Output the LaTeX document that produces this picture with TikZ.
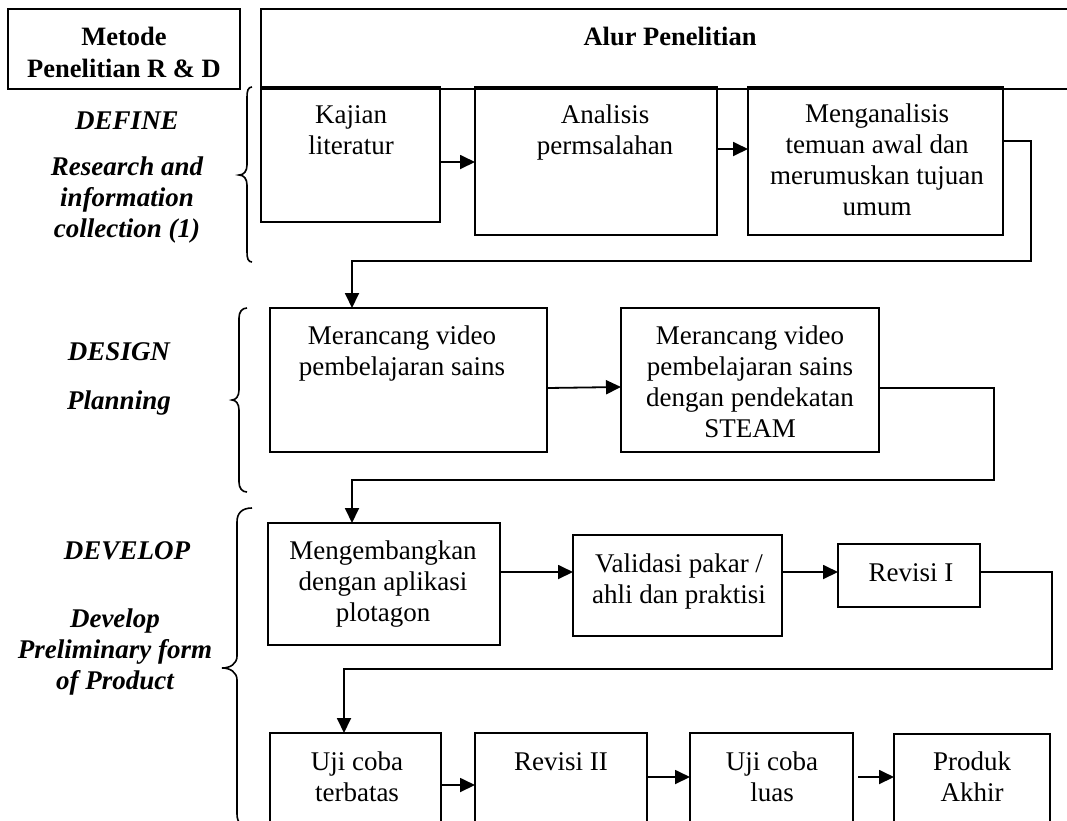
\documentclass[tikz,border=0pt]{standalone}
\usepackage{fontspec}
\setmainfont{Liberation Serif}
\usetikzlibrary{arrows.meta}
\newcommand{\T}{\rule{0pt}{20pt}}
\begin{document}
\begin{tikzpicture}[x=1pt,y=-1pt,
  box/.style={draw, line width=1.8pt, inner sep=0pt, outer sep=0pt, anchor=north west},
  txt/.style={anchor=north, inner sep=0pt, align=center, font=\fontsize{27}{31}\selectfont},
  btxt/.style={txt, font=\fontsize{26.5}{32}\selectfont\bfseries},
  bitxt/.style={txt, font=\fontsize{27}{31}\selectfont\bfseries\itshape},
  arr/.style={line width=1.8pt, -{Triangle[length=15pt,width=14pt]}},
  ln/.style={line width=1.6pt}]
\useasboundingbox (0,0) rectangle (1067,820);
\fill[white] (0,0) rectangle (1067,820);
\clip (0,0) rectangle (1067,820);

% boxes
\node[box, minimum width=232pt, minimum height=80pt] (metode) at (8,9) {};
\node[box, minimum width=819pt, minimum height=80pt] (header) at (261,9) {};
\node[box, minimum width=179pt, minimum height=135pt] (kajian) at (261,87) {};
\node[box, minimum width=242pt, minimum height=148pt] (analisis) at (475,87) {};
\node[box, minimum width=255pt, minimum height=148pt] (mengan) at (748,87) {};
\node[box, minimum width=277pt, minimum height=144pt] (m1) at (270,308) {};
\node[box, minimum width=258pt, minimum height=144pt] (m2) at (621,308) {};
\node[box, minimum width=232pt, minimum height=122pt] (mengemb) at (268,523) {};
\node[box, minimum width=209pt, minimum height=101pt] (valid) at (573,535) {};
\node[box, minimum width=142pt, minimum height=63pt] (rev1) at (838,544) {};
\node[box, minimum width=171pt, minimum height=120pt] (uji) at (270,733) {};
\node[box, minimum width=172pt, minimum height=120pt] (rev2) at (475,733) {};
\node[box, minimum width=163pt, minimum height=120pt] (luas) at (690,733) {};
\node[box, minimum width=156pt, minimum height=120pt] (produk) at (894,734) {};

% texts
\node[btxt] (metodeT) at (124,25) {\T Metode\\Penelitian R \& D};
\node[btxt] (alurT) at (670,25) {\T Alur Penelitian};
\node[bitxt] (defineT) at (127,109) {\T DEFINE};
\node[bitxt] (researchT) at (127,155) {\T Research and\\information\\collection (1)};
\node[txt] (kajianT) at (351,103) {\T Kajian\\literatur};
\node[txt] (analisisT) at (605,103) {\T Analisis\\permsalahan};
\node[txt] (menganT) at (877,102) {\T Menganalisis\\temuan awal dan\\merumuskan tujuan\\umum};
\node[bitxt] (designT) at (119,340) {\T DESIGN};
\node[bitxt] (planningT) at (119,389) {\T Planning};
\node[txt] (m1T) at (402,324) {\T Merancang video\\pembelajaran sains};
\node[txt] (m2T) at (750,324) {\T Merancang video\\pembelajaran sains\\dengan pendekatan\\STEAM};
\node[bitxt] (developT) at (127,539) {\T DEVELOP};
\node[bitxt] (develop2T) at (115,607) {\T Develop\\Preliminary form\\of Product};
\node[txt] (mengembT) at (383,539) {\T Mengembangkan\\dengan aplikasi\\plotagon};
\node[txt] (validT) at (679,552) {\T Validasi pakar /\\ahli dan praktisi};
\node[txt] (rev1T) at (911,561) {\T Revisi I};
\node[txt] (ujiT) at (357,750) {\T Uji coba\\terbatas};
\node[txt] (rev2T) at (561,750) {\T Revisi II};
\node[txt] (luasT) at (772,750) {\T Uji coba\\luas};
\node[txt] (produkT) at (972,750) {\T Produk\\Akhir};

% bend points
\coordinate (c1) at (1031,261);
\coordinate (c2) at (994,480);
\coordinate (c3) at (1052,669);

% connectors
\draw[arr] (kajian.east |- 0,162) -- (analisis.west |- 0,162);
\draw[arr] (analisis.east |- 0,149) -- (mengan.west |- 0,149);
\draw[arr] (mengan.east |- 0,141) -| (c1) -| (m1.north -| 352,0);
\draw[arr] (m1.east |- 0,388) -- (m2.west |- 0,387);
\draw[arr] (m2.east |- 0,388) -| (c2) -| (mengemb.north -| 352,0);
\draw[arr] (mengemb.east |- 0,572) -- (valid.west |- 0,572);
\draw[arr] (valid.east |- 0,572) -- (rev1.west |- 0,572);
\draw[arr] (rev1.east |- 0,572) -| (c3) -| (uji.north -| 344,0);
\draw[arr] (uji.east |- 0,785) -- (rev2.west |- 0,785);
\draw[arr] (rev2.east |- 0,777) -- (luas.west |- 0,777);
\draw[arr, shorten <=5pt] (luas.east |- 0,777) -- (produk.west |- 0,777);

% braces
\draw[ln] (252,87) .. controls (248,87) and (247,91) .. (247,97) -- (247,165)
  .. controls (247,171) and (244,175) .. (239,175)
  .. controls (244,175) and (247,179) .. (247,185) -- (247,252)
  .. controls (247,258) and (248,262) .. (252,262);
\draw[ln] (247,308) .. controls (242,308) and (239,312) .. (239,318) -- (239,390)
  .. controls (239,396) and (236,400) .. (232,400)
  .. controls (236,400) and (239,404) .. (239,410) -- (239,482)
  .. controls (239,488) and (242,492) .. (247,492);
\draw[ln] (252,508) .. controls (242,508) and (237,513) .. (237,522) -- (237,656)
  .. controls (237,664) and (230,668) .. (222,668)
  .. controls (230,668) and (237,672) .. (237,680) -- (237,814)
  .. controls (237,823) and (242,828) .. (252,828);
\end{tikzpicture}
\end{document}
